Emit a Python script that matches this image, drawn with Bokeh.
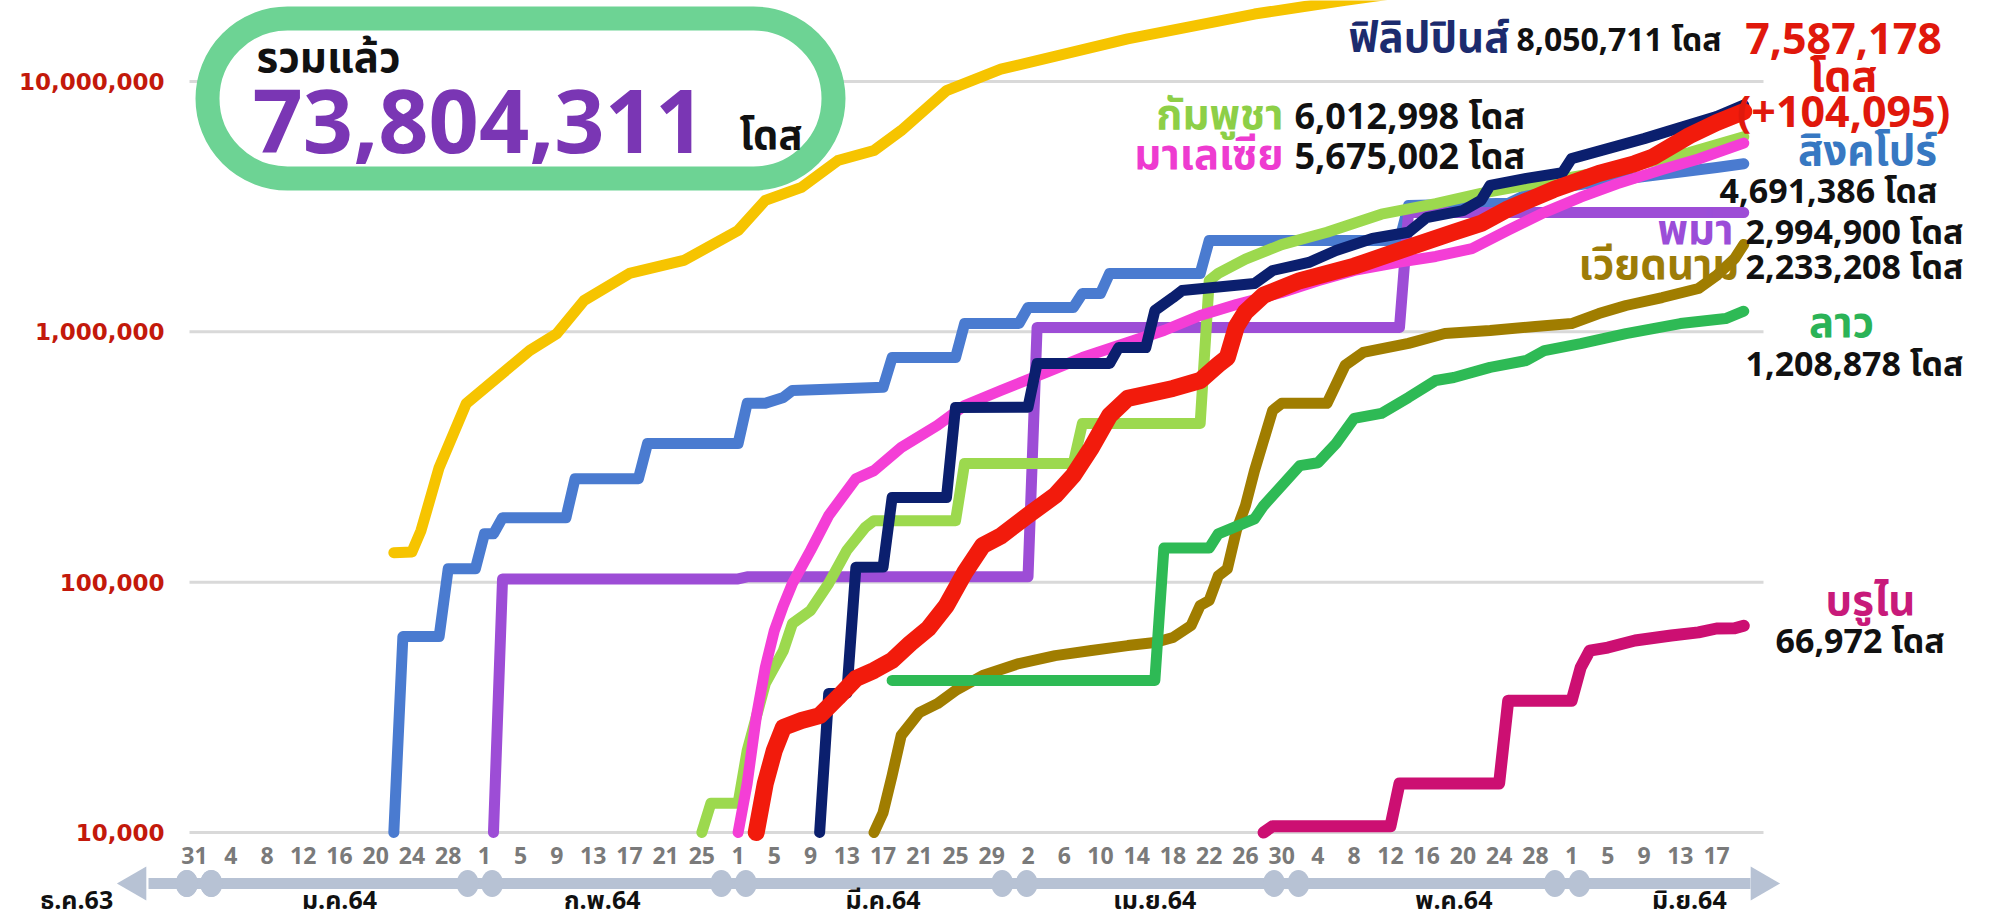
import math
import pandas as pd
from bokeh.plotting import figure
from bokeh.models import Range1d, BoxAnnotation, ColumnDataSource, Label, Grid
from bokeh.core.properties import value
from bokeh.embed import file_html
from bokeh.resources import INLINE

# ------------------------------------------------------------------ data
START = pd.Timestamp("2020-12-31")

indonesia_dates = ["2021-01-22", "2021-01-24", "2021-01-25", "2021-01-27", "2021-01-30", "2021-02-06",
                   "2021-02-09", "2021-02-12", "2021-02-17", "2021-02-23", "2021-03-01", "2021-03-04",
                   "2021-03-08", "2021-03-12", "2021-03-16", "2021-03-19", "2021-03-24", "2021-03-30",
                   "2021-04-13", "2021-04-27", "2021-05-07", "2021-05-25", "2021-06-20"]
indonesia_doses = [131000, 132000, 160700, 287000, 517600, 842000, 984000, 1334000, 1711000, 1928000,
                   2541000, 3350000, 3776000, 4832000, 5300000, 6370000, 9200000, 11200000, 14800000,
                   18600000, 21090000, 26000000, 35283078]

singapore_dates = ["2021-01-22", "2021-01-23", "2021-01-27", "2021-01-28", "2021-01-31", "2021-02-01",
                   "2021-02-02", "2021-02-03", "2021-02-10", "2021-02-11", "2021-02-18", "2021-02-19",
                   "2021-03-01", "2021-03-02", "2021-03-04", "2021-03-06", "2021-03-07", "2021-03-17",
                   "2021-03-18", "2021-03-25", "2021-03-26", "2021-04-01", "2021-04-02", "2021-04-07",
                   "2021-04-08", "2021-04-10", "2021-04-11", "2021-04-21", "2021-04-22", "2021-05-13",
                   "2021-05-14", "2021-05-25", "2021-05-28", "2021-06-03", "2021-06-17", "2021-06-20"]
singapore_doses = [10000, 60600, 60600, 113000, 113000, 156000, 156000, 181000, 181000, 259000, 259000,
                   358000, 358000, 518000, 518000, 547000, 583000, 600000, 789000, 789000, 1079000,
                   1079000, 1250000, 1250000, 1423000, 1423000, 1710000, 1710000, 2317000, 2317000,
                   3199000, 3260000, 3671000, 3917000, 4533000, 4691386]

myanmar_dates = ["2021-02-02", "2021-02-03", "2021-03-01", "2021-03-02", "2021-04-02", "2021-04-03",
                 "2021-05-13", "2021-05-14", "2021-06-20"]
myanmar_doses = [10000, 103000, 103000, 105000, 105000, 1040000, 1040000, 2994900, 2994900]

cambodia_dates = ["2021-02-25", "2021-02-26", "2021-03-01", "2021-03-02", "2021-03-04", "2021-03-06",
                  "2021-03-07", "2021-03-09", "2021-03-11", "2021-03-13", "2021-03-15", "2021-03-16",
                  "2021-03-25", "2021-03-26", "2021-04-07", "2021-04-08", "2021-04-21", "2021-04-22",
                  "2021-04-23", "2021-04-26", "2021-04-30", "2021-05-05", "2021-05-11", "2021-05-17",
                  "2021-05-22", "2021-05-28", "2021-06-06", "2021-06-14", "2021-06-20"]
cambodia_doses = [10000, 13100, 13100, 21200, 39300, 53300, 68400, 77100, 98900, 134000, 165000, 176000,
                  176000, 298000, 298000, 430000, 430000, 1603000, 1711000, 1950000, 2230000, 2500000,
                  2950000, 3250000, 3573000, 3917000, 4450000, 5200000, 6012998]

malaysia_dates = ["2021-03-01", "2021-03-02", "2021-03-03", "2021-03-04", "2021-03-05", "2021-03-06",
                  "2021-03-07", "2021-03-09", "2021-03-11", "2021-03-14", "2021-03-16", "2021-03-19",
                  "2021-03-23", "2021-03-26", "2021-03-30", "2021-04-04", "2021-04-08", "2021-04-13",
                  "2021-04-17", "2021-04-21", "2021-04-25", "2021-04-30", "2021-05-04", "2021-05-08",
                  "2021-05-13", "2021-05-17", "2021-05-21", "2021-05-25", "2021-05-29", "2021-06-02",
                  "2021-06-06", "2021-06-11", "2021-06-15", "2021-06-20"]
malaysia_doses = [10000, 15700, 28800, 45600, 64100, 80700, 98900, 134000, 184700, 259000, 279000,
                  345000, 423000, 508000, 583000, 689000, 789000, 906000, 1012000, 1162000, 1285000,
                  1436000, 1600000, 1760000, 1900000, 2000000, 2150000, 2550000, 3000000, 3450000,
                  3900000, 4450000, 4900000, 5675002]

philippines_dates = ["2021-03-10", "2021-03-11", "2021-03-13", "2021-03-14", "2021-03-17", "2021-03-18",
                     "2021-03-24", "2021-03-25", "2021-04-02", "2021-04-03", "2021-04-11", "2021-04-12",
                     "2021-04-15", "2021-04-16", "2021-04-18", "2021-04-19", "2021-04-27", "2021-04-29",
                     "2021-05-03", "2021-05-06", "2021-05-10", "2021-05-14", "2021-05-16", "2021-05-20",
                     "2021-05-22", "2021-05-23", "2021-05-27", "2021-05-31", "2021-06-01", "2021-06-05",
                     "2021-06-09", "2021-06-13", "2021-06-17", "2021-06-20"]
philippines_doses = [10000, 35900, 36000, 114600, 115000, 218000, 218000, 499000, 500000, 747000,
                     747000, 865000, 865000, 1216000, 1371000, 1462000, 1561000, 1758000, 1893000,
                     2113000, 2360000, 2500000, 2860000, 3050000, 3350000, 3845000, 4100000, 4327000,
                     4921000, 5395000, 5913000, 6547000, 7244000, 8050711]

thailand_dates = ["2021-03-03", "2021-03-04", "2021-03-05", "2021-03-06", "2021-03-08", "2021-03-10",
                  "2021-03-12", "2021-03-14", "2021-03-16", "2021-03-18", "2021-03-20", "2021-03-22",
                  "2021-03-24", "2021-03-26", "2021-03-28", "2021-03-30", "2021-04-02", "2021-04-05",
                  "2021-04-07", "2021-04-09", "2021-04-11", "2021-04-13", "2021-04-18", "2021-04-21",
                  "2021-04-23", "2021-04-24", "2021-04-25", "2021-04-26", "2021-04-28", "2021-05-02",
                  "2021-05-08", "2021-05-13", "2021-05-19", "2021-05-22", "2021-05-25", "2021-05-30",
                  "2021-06-04", "2021-06-08", "2021-06-10", "2021-06-14", "2021-06-17", "2021-06-20"]
thailand_doses = [10000, 15700, 21300, 26300, 28000, 29300, 34600, 41200, 44400, 48700, 56900, 65300,
                  80700, 109000, 140000, 153000, 185000, 222000, 267000, 345000, 463000, 542000, 594000,
                  639000, 740000, 790000, 1050000, 1200000, 1400000, 1600000, 1830000, 2110000,
                  2500000, 2710000, 3100000, 3700000, 4290000, 4700000, 5000000, 6081000, 6855000,
                  7587178]
thailand_increase = 104095

vietnam_dates = ["2021-03-16", "2021-03-17", "2021-03-18", "2021-03-19", "2021-03-21", "2021-03-23",
                 "2021-03-25", "2021-03-28", "2021-04-01", "2021-04-05", "2021-04-09", "2021-04-13",
                 "2021-04-16", "2021-04-18", "2021-04-20", "2021-04-21", "2021-04-22", "2021-04-23",
                 "2021-04-24", "2021-04-25", "2021-04-26", "2021-04-27", "2021-04-28", "2021-04-29",
                 "2021-04-30", "2021-05-05", "2021-05-07", "2021-05-09", "2021-05-14", "2021-05-18",
                 "2021-05-23", "2021-05-28", "2021-06-01", "2021-06-04", "2021-06-07", "2021-06-11",
                 "2021-06-15", "2021-06-17", "2021-06-19", "2021-06-20"]
vietnam_doses = [10000, 12000, 16900, 24400, 30100, 32700, 36900, 42400, 47300, 50900, 53300, 55800,
                 57400, 60100, 67100, 80700, 84500, 106000, 113000, 161000, 202000, 279000, 368000,
                 485000, 518000, 518000, 735000, 827000, 899000, 985000, 1012000, 1051000, 1079000,
                 1183000, 1274000, 1371000, 1490000, 1679000, 1965000, 2233208]

laos_dates = ["2021-03-18", "2021-04-16", "2021-04-17", "2021-04-22", "2021-04-23", "2021-04-27",
              "2021-04-28", "2021-05-02", "2021-05-04", "2021-05-06", "2021-05-08", "2021-05-11",
              "2021-05-14", "2021-05-17", "2021-05-19", "2021-05-23", "2021-05-27", "2021-05-29",
              "2021-06-02", "2021-06-07", "2021-06-13", "2021-06-18", "2021-06-20"]
laos_doses = [40500, 40500, 137000, 137000, 156000, 179000, 202000, 292000, 300000, 358000, 451000,
              472000, 547000, 639000, 657000, 721000, 768000, 842000, 898000, 984000, 1079000,
              1130000, 1208878]

brunei_dates = ["2021-04-28", "2021-04-29", "2021-05-12", "2021-05-13", "2021-05-24", "2021-05-25",
                "2021-06-01", "2021-06-02", "2021-06-03", "2021-06-05", "2021-06-08", "2021-06-12",
                "2021-06-15", "2021-06-17", "2021-06-19", "2021-06-20"]
brunei_doses = [10000, 10600, 10600, 15700, 15700, 33600, 33600, 45600, 53300, 54800, 58500, 61200,
                63000, 65300, 65400, 66972]

y_ticks = [10000, 100000, 1000000, 10000000]
tick_dates = list(pd.date_range("2020-12-31", "2021-06-17", freq="4D"))
month_names = ["ธ.ค.63", "ม.ค.64", "ก.พ.64", "มี.ค.64", "เม.ย.64", "พ.ค.64", "มิ.ย.64"]
month_label_dates = ["2020-12-18", "2021-01-16", "2021-02-14", "2021-03-17", "2021-04-16",
                     "2021-05-19", "2021-06-14"]
month_starts = ["2021-01-01", "2021-02-01", "2021-03-01", "2021-04-01", "2021-05-01", "2021-06-01"]

total_label = "รวมแล้ว"
unit = "โดส"

# ------------------------------------------------------------------ layout
W, H = 2005, 920
PX_PER_DAY = 9.06
DAY0_PX = 194.0          # page x of 2020-12-31
DECADE_PX = 250.33
E7_PX = 81.0             # page y of 10,000,000


def days(ds):
    return [(pd.Timestamp(d) - START).days for d in ds]


def px_x(px):
    return (px - DAY0_PX) / PX_PER_DAY


def px_y(py):
    return 10 ** (7 - (py - E7_PX) / DECADE_PX)


p = figure(width=W, height=H,
           x_range=Range1d(px_x(0), px_x(W)),
           y_range=Range1d(px_y(H), px_y(0)),
           y_axis_type="log", x_axis_location=None, y_axis_location=None,
           toolbar_location=None, output_backend="svg", min_border=0)
p.outline_line_color = None
p.background_fill_color = "white"
for g in p.select(type=Grid):
    g.visible = False

TH_FONT = "Noto Sans Thai, Noto Sans, sans-serif"
NUM_FONT = "Noto Sans, Noto Sans Thai, sans-serif"
TH = value(TH_FONT)
NUM = value(NUM_FONT)

# grid lines + y tick labels
p.segment(x0=[px_x(189)] * len(y_ticks), x1=[px_x(1763)] * len(y_ticks), y0=y_ticks, y1=y_ticks,
          line_color="#d9d9d9", line_width=3)
p.text(x=[px_x(164)] * len(y_ticks), y=y_ticks, text=[f"{t:,}" for t in y_ticks],
       text_align="right", text_baseline="middle", text_font=value("DejaVu Sans"),
       text_font_style="bold", text_font_size="23px", text_color="#c3190b")

# series
series = [
    (indonesia_dates, indonesia_doses, "#f6c400", 11),
    (singapore_dates, singapore_doses, "#4a7bd0", 11),
    (myanmar_dates, myanmar_doses, "#9d4dd6", 11),
    (vietnam_dates, vietnam_doses, "#a07d00", 11),
    (laos_dates, laos_doses, "#2eba55", 11),
    (cambodia_dates, cambodia_doses, "#9cd94e", 11),
    (malaysia_dates, malaysia_doses, "#f43ed6", 11),
    (philippines_dates, philippines_doses, "#0b1f6e", 11),
    (thailand_dates, thailand_doses, "#f21b0c", 17),
    (brunei_dates, brunei_doses, "#cc0f72", 12),
]
for ds, vs, col, lw in series:
    src = ColumnDataSource(dict(x=days(ds), y=vs))
    p.line("x", "y", source=src, line_color=col, line_width=lw, line_cap="round", line_join="round")

# x axis: day numbers, arrow bar with month dots, month names
tick_x = [(d - START).days for d in tick_dates]
p.text(x=tick_x, y=[px_y(855)] * len(tick_x), text=[str(d.day) for d in tick_dates],
       text_align="center", text_baseline="middle", text_font=NUM, text_font_style="bold",
       text_font_size="23px", text_color="#7a7a7a")
bar_y = px_y(883)
ARROW = "#b7c2d4"
p.segment(x0=[px_x(148)], x1=[px_x(1750)], y0=[bar_y], y1=[bar_y], line_color=ARROW, line_width=11)
p.scatter(x=[px_x(136), px_x(1760)], y=[bar_y, bar_y], marker="triangle", size=34,
          angle=[math.pi / 2, -math.pi / 2], fill_color=ARROW, line_color=None)
dot_x = []
for b in [0.5] + [d - 0.5 for d in days(month_starts)]:
    dot_x += [b - 1.35, b + 1.35]
p.ellipse(x=dot_x, y=[bar_y] * len(dot_x), width=22, height=27, width_units="screen",
          height_units="screen", fill_color=ARROW, line_color=None)
p.text(x=days(month_label_dates), y=[px_y(900)] * len(month_names), text=month_names,
       text_align="center", text_baseline="middle", text_font=TH, text_font_style="bold",
       text_font_size="25px", text_color="#111111")

# total box
box = BoxAnnotation(left=px_x(207), right=px_x(833), top=px_y(18), bottom=px_y(178),
                    fill_color="white", fill_alpha=1, line_color="#6dd394", line_alpha=1,
                    line_width=24, border_radius=80)
p.add_layout(box)
finals = [s[1][-1] for s in series]
total = sum(finals)
p.add_layout(Label(x=px_x(256), y=px_y(58), text=total_label, text_align="left",
                   text_baseline="middle", text_font=TH_FONT, text_font_style="bold",
                   text_font_size="42px", text_color="#111111"))
p.add_layout(Label(x=px_x(252), y=px_y(121), text=f"{total:,}", text_align="left",
                   text_baseline="middle", text_font=NUM_FONT, text_font_style="bold",
                   text_font_size="88px", text_color="#7a36b4"))
p.add_layout(Label(x=px_x(739), y=px_y(136), text=unit, text_align="left",
                   text_baseline="middle", text_font=TH_FONT, text_font_style="bold",
                   text_font_size="40px", text_color="#111111"))

# right-hand labels:
# (name, colour, name_x, name_y, name_align, number_x, number_y, number_align, number_size, value)
labels = [
    ("ฟิลิปปินส์", "#1c2b6e", 1509, 38, "right", 1516, 38, "left", "32px", philippines_doses[-1]),
    ("กัมพูชา", "#8dcf47", 1283, 115, "right", 1294, 115, "left", "36px", cambodia_doses[-1]),
    ("มาเลเซีย", "#ee3bd0", 1283, 155, "right", 1294, 155, "left", "36px", malaysia_doses[-1]),
    ("สิงคโปร์", "#3778c2", 1867, 151, "center", 1937, 189, "right", "34px", singapore_doses[-1]),
    ("พม่า", "#9b4dd8", 1733, 230, "right", 1745, 230, "left", "34px", myanmar_doses[-1]),
    ("เวียดนาม", "#9d7c07", 1739, 265, "right", 1745, 265, "left", "34px", vietnam_doses[-1]),
    ("ลาว", "#2bb357", 1841, 323, "center", 1745, 362, "left", "34px", laos_doses[-1]),
    ("บรูไน", "#c81a7a", 1870, 601, "center", 1775, 639, "left", "34px", brunei_doses[-1]),
]
for name, col, nx, ny, na, vx, vy, va, vsize, v in labels:
    p.text(x=[px_x(nx)], y=[px_y(ny)], text=[name], text_align=na, text_baseline="middle",
           text_font=TH, text_font_style="bold", text_font_size="42px", text_color=col)
    p.text(x=[px_x(vx)], y=[px_y(vy)], text=[f"{v:,} {unit}"], text_align=va, text_baseline="middle",
           text_font=NUM, text_font_style="bold", text_font_size=vsize, text_color="#111111")

# Thailand (red, stacked)
thai_lines = [f"{thailand_doses[-1]:,}", unit, f"(+{thailand_increase:,})"]
p.text(x=[px_x(1843)] * 3, y=[px_y(38), px_y(74), px_y(110)], text=thai_lines, text_align="center",
       text_baseline="middle", text_font=NUM, text_font_style="bold", text_font_size="43px",
       text_color="#e0180c")

open("out.html", "w").write(file_html(p, INLINE))
